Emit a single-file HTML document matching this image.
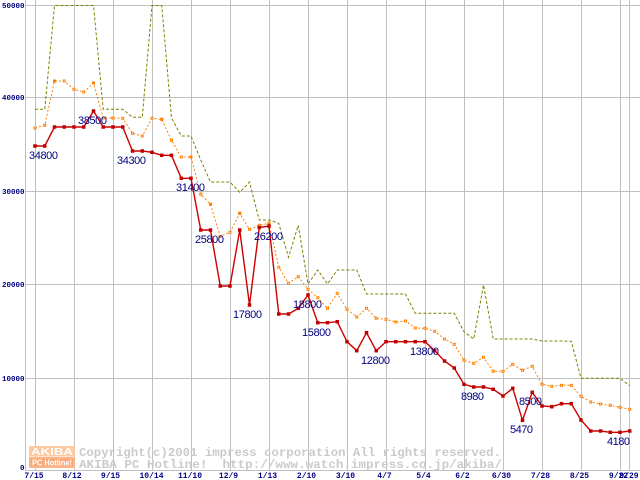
<!DOCTYPE html>
<html><head><meta charset="utf-8"><style>
html,body{margin:0;padding:0;background:#fff;}
svg{display:block;}
.yl{font-family:"Liberation Mono",monospace;font-weight:bold;font-size:7.5px;fill:#000080;}
.xl{font-family:"Liberation Mono",monospace;font-weight:bold;font-size:8px;fill:#000080;}
.dl{font-family:"Liberation Sans",sans-serif;font-size:11px;fill:#000080;}
.cp{font-family:"Liberation Mono",monospace;font-weight:bold;font-size:11.5px;fill:#cacaca;}
</style></head><body>
<svg width="640" height="480" viewBox="0 0 640 480" xmlns="http://www.w3.org/2000/svg">
<defs>
<marker id="mr" markerWidth="4" markerHeight="4" refX="2" refY="2" markerUnits="userSpaceOnUse" overflow="visible">
<rect x="0.25" y="0.25" width="3.5" height="3.5" fill="#c00000"/></marker>
<marker id="mo" markerWidth="4" markerHeight="4" refX="2" refY="2" markerUnits="userSpaceOnUse" overflow="visible">
<rect x="1" y="1" width="2" height="2" fill="#fff" stroke="#ff8000" stroke-width="1"/></marker>
</defs>
<rect width="640" height="480" fill="#fff"/>
<!-- grid -->
<g stroke="#c0c0c0" stroke-width="1" fill="none">
<line x1="25.5" y1="0" x2="25.5" y2="470.5"/>
<line x1="25" y1="5.5" x2="640" y2="5.5"/>
<line x1="25" y1="97.5" x2="640" y2="97.5"/>
<line x1="25" y1="191.5" x2="640" y2="191.5"/>
<line x1="25" y1="284.5" x2="640" y2="284.5"/>
<line x1="25" y1="378.5" x2="640" y2="378.5"/>
<line x1="25" y1="470.5" x2="640" y2="470.5"/>
<line x1="35.5" y1="0" x2="35.5" y2="470"/>
<line x1="74.5" y1="0" x2="74.5" y2="470"/>
<line x1="113.5" y1="0" x2="113.5" y2="470"/>
<line x1="152.5" y1="0" x2="152.5" y2="470"/>
<line x1="191.5" y1="0" x2="191.5" y2="470"/>
<line x1="230.5" y1="0" x2="230.5" y2="470"/>
<line x1="269.5" y1="0" x2="269.5" y2="470"/>
<line x1="308.5" y1="0" x2="308.5" y2="470"/>
<line x1="347.5" y1="0" x2="347.5" y2="470"/>
<line x1="386.5" y1="0" x2="386.5" y2="470"/>
<line x1="425.5" y1="0" x2="425.5" y2="470"/>
<line x1="464.5" y1="0" x2="464.5" y2="470"/>
<line x1="503.5" y1="0" x2="503.5" y2="470"/>
<line x1="542.5" y1="0" x2="542.5" y2="470"/>
<line x1="581.5" y1="0" x2="581.5" y2="470"/>
<line x1="620.5" y1="0" x2="620.5" y2="470"/>
<line x1="629.5" y1="0" x2="629.5" y2="470"/>
</g>
<!-- y labels -->
<text class="yl" x="24.5" y="8" text-anchor="end">50000</text>
<text class="yl" x="24.5" y="100" text-anchor="end">40000</text>
<text class="yl" x="24.5" y="194" text-anchor="end">30000</text>
<text class="yl" x="24.5" y="287" text-anchor="end">20000</text>
<text class="yl" x="24.5" y="381" text-anchor="end">10000</text>
<text class="yl" x="24.5" y="470" text-anchor="end">0</text>
<!-- x labels -->
<g class="xl" text-anchor="middle">
<text x="34" y="478">7/15</text>
<text x="72" y="478">8/12</text>
<text x="110.5" y="478">9/15</text>
<text x="151.5" y="478">10/14</text>
<text x="190" y="478">11/10</text>
<text x="228.5" y="478">12/9</text>
<text x="267.5" y="478">1/13</text>
<text x="306.5" y="478">2/10</text>
<text x="345.5" y="478">3/10</text>
<text x="384.5" y="478">4/7</text>
<text x="423.5" y="478">5/4</text>
<text x="462.5" y="478">6/2</text>
<text x="501.5" y="478">6/30</text>
<text x="540.5" y="478">7/28</text>
<text x="579.5" y="478">8/25</text>
<text x="618.5" y="478">9/22</text>
<text x="629" y="478">9/29</text>
</g>
<!-- copyright -->
<rect x="29" y="446" width="46" height="10.5" fill="#fcc9a0"/>
<rect x="29" y="457" width="46" height="11" fill="#fbb88c"/>
<rect x="30.5" y="458.5" width="43" height="8" fill="#f9a878"/>
<text x="31" y="455" font-family="Liberation Sans,sans-serif" font-weight="bold" font-size="10px" fill="#fff" textLength="42" lengthAdjust="spacingAndGlyphs">AKIBA</text>
<text x="32" y="465.5" font-family="Liberation Sans,sans-serif" font-weight="bold" font-size="8px" fill="#fff" textLength="40" lengthAdjust="spacingAndGlyphs">PC Hotline!</text>
<text class="cp" x="79" y="456" textLength="422" lengthAdjust="spacingAndGlyphs">Copyright(c)2001 impress corporation All rights reserved.</text>
<text class="cp" x="79" y="468" textLength="423" lengthAdjust="spacingAndGlyphs" xml:space="preserve">AKIBA PC Hotline!  http://www.watch.impress.co.jp/akiba/</text>
<!-- olive max -->
<polyline fill="none" stroke="#808000" stroke-width="1" stroke-dasharray="3,2" points="35,109.3 44.75,109.3 54.5,5.5 64.25,5.5 74,5.5 83.75,5.5 93.5,5.5 103.25,109.3 113,109.3 122.75,109.3 132.5,117.3 142.25,117.3 152,5.5 161.75,5.5 171.5,118 181.25,136 191,136 200.75,160 210.5,182 220.25,182 230,182 239.75,192.3 249.5,182 259.25,220 269,220 278.75,223.3 288.5,257.3 298.25,225.3 308,284 317.75,270 327.5,284 337.25,270 347,270 356.75,270 366.5,294 376.25,294 386,294 395.75,294 405.5,294 415.25,313.3 425,313.3 434.75,313.3 444.5,313.3 454.25,313.3 464,331.7 473.75,339 483.5,285 493.25,339 503,339 512.75,339 522.5,339 532.25,339 542,341 551.75,341 561.5,341 571.25,341.3 581,378.3 590.75,378.3 600.5,378.3 610.25,378.3 620,378.3 629.75,385.7"/>
<!-- orange avg -->
<polyline fill="none" stroke="#ff8000" stroke-width="1" stroke-dasharray="2,2" marker-start="url(#mo)" marker-mid="url(#mo)" marker-end="url(#mo)" points="35,128 44.75,125.3 54.5,81 64.25,81 74,89.3 83.75,92 93.5,83 103.25,118 113,118 122.75,118.3 132.5,133.3 142.25,136 152,118.3 161.75,119.3 171.5,140.3 181.25,157 191,157 200.75,194.3 210.5,204.3 220.25,236.3 230,232.3 239.75,213.3 249.5,229.3 259.25,225.3 269,223.3 278.75,267.3 288.5,283.3 298.25,276.7 308,289.3 317.75,297.7 327.5,308.3 337.25,293.3 347,309.3 356.75,317 366.5,308.3 376.25,318.3 386,319.3 395.75,322 405.5,321 415.25,328 425,328.3 434.75,331.3 444.5,339 454.25,344.3 464,360.3 473.75,363.3 483.5,357.3 493.25,371.3 503,371.3 512.75,364.3 522.5,370.3 532.25,366.3 542,384.3 551.75,386.3 561.5,385.3 571.25,385.3 581,396.3 590.75,402 600.5,404 610.25,405.3 620,407.3 629.75,409.3"/>
<g fill="#ff8000">
<rect x="53" y="79.5" width="3" height="3"/>
<rect x="92" y="81.5" width="3" height="3"/>
<rect x="160.25" y="117.8" width="3" height="3"/>
<rect x="189.5" y="155.5" width="3" height="3"/>
<rect x="209" y="202.8" width="3" height="3"/>
<rect x="238.25" y="211.8" width="3" height="3"/>
<rect x="267.5" y="221.8" width="3" height="3"/>
</g>
<!-- red min -->
<polyline fill="none" stroke="#cc0000" stroke-width="1.4" marker-start="url(#mr)" marker-mid="url(#mr)" marker-end="url(#mr)" points="35,146 44.75,146 54.5,127 64.25,127 74,127 83.75,127 93.5,111 103.25,127 113,127 122.75,127 132.5,151 142.25,151 152,152.3 161.75,155.3 171.5,155.3 181.25,178.3 191,178.3 200.75,230 210.5,230 220.25,286 230,286 239.75,230 249.5,305 259.25,227.5 269,226 278.75,314 288.5,314 298.25,308.3 308,295 317.75,322.7 327.5,322.7 337.25,321.7 347,341.7 356.75,350.7 366.5,332.7 376.25,350.7 386,341.7 395.75,341.7 405.5,341.7 415.25,341.7 425,341.7 434.75,350.7 444.5,361 454.25,368 464,384.3 473.75,387 483.5,387 493.25,389.3 503,396 512.75,388.3 522.5,420.3 532.25,392.3 542,406 551.75,406.7 561.5,403.7 571.25,403.7 581,420 590.75,431 600.5,431 610.25,432.3 620,432.3 629.75,431"/>
<!-- data labels -->
<g class="dl">
<text x="29" y="159" textLength="29">34800</text>
<text x="78" y="124" textLength="29">38500</text>
<text x="117" y="164" textLength="29">34300</text>
<text x="176" y="191" textLength="29">31400</text>
<text x="195" y="243" textLength="29">25800</text>
<text x="254" y="240" textLength="29">26200</text>
<text x="233" y="318" textLength="29">17800</text>
<text x="293" y="308" textLength="29">18800</text>
<text x="302" y="336" textLength="29">15800</text>
<text x="361" y="364" textLength="29">12800</text>
<text x="410" y="355" textLength="29">13800</text>
<text x="461" y="400" textLength="23">8980</text>
<text x="519" y="405" textLength="23">8500</text>
<text x="510" y="433" textLength="23">5470</text>
<text x="607" y="445" textLength="23">4180</text>
</g>
</svg>
</body></html>
